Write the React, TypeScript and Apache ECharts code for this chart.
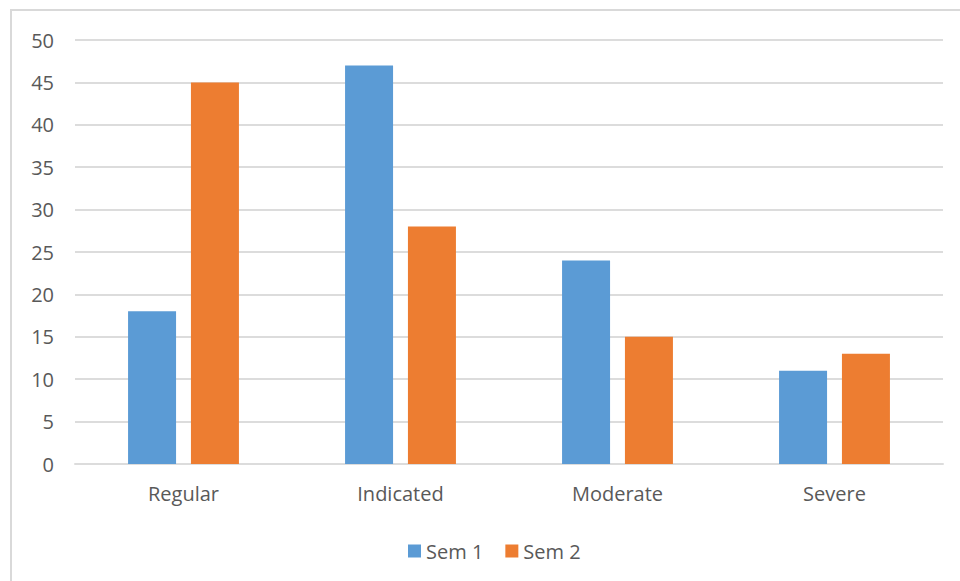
import React, { useEffect, useRef } from "react";
import * as echarts from "echarts";

const categories = ["Regular", "Indicated", "Moderate", "Severe"];
const sem1 = [18, 47, 24, 11];
const sem2 = [45, 28, 15, 13];
const seriesNames = ["Sem 1", "Sem 2"];
const colors = ["#5b9bd5", "#ed7d31"];

const FONT = "'Open Sans', 'Noto Sans', sans-serif";
const TEXT = "#595959";
const RULE = "#dcdcdc";

export default function App() {
  const ref = useRef<HTMLDivElement>(null);

  useEffect(() => {
    if (!ref.current) return;
    const chart = echarts.init(ref.current, undefined, { renderer: "svg" });
    chart.setOption({
      animation: false,
      backgroundColor: "#ffffff",
      textStyle: { fontFamily: FONT },
      graphic: [
        {
          type: "rect",
          shape: { x: 11, y: 10, width: 970, height: 590 },
          style: { fill: "none", stroke: "#d9d9d9", lineWidth: 2 },
          silent: true,
        },
      ],
      grid: { left: 75, right: 17, top: 40, bottom: 117 },
      legend: {
        data: seriesNames,
        top: 536,
        left: 403,
        itemWidth: 13,
        itemHeight: 13,
        itemGap: 22,
        icon: "rect",
        textStyle: { fontSize: 20, color: TEXT, fontFamily: FONT },
      },
      xAxis: {
        type: "category",
        data: categories,
        axisLine: { lineStyle: { color: RULE, width: 2 } },
        axisTick: { show: false },
        axisLabel: { fontSize: 20, color: TEXT, margin: 19, fontFamily: FONT },
      },
      yAxis: {
        type: "value",
        min: 0,
        max: 50,
        interval: 5,
        axisLine: { show: false },
        axisTick: { show: false },
        axisLabel: { fontSize: 20, color: TEXT, margin: 21, fontFamily: FONT },
        splitLine: { lineStyle: { color: RULE, width: 2 } },
      },
      series: [
        {
          name: seriesNames[0],
          type: "bar",
          data: sem1,
          barWidth: 48,
          barGap: "31%",
          itemStyle: { color: colors[0] },
        },
        {
          name: seriesNames[1],
          type: "bar",
          data: sem2,
          barWidth: 48,
          barGap: "31%",
          itemStyle: { color: colors[1] },
        },
      ],
    });
    return () => chart.dispose();
  }, []);

  return (
    <div
      ref={ref}
      style={{ position: "absolute", left: 0, top: 0, width: 960, height: 581 }}
    />
  );
}
